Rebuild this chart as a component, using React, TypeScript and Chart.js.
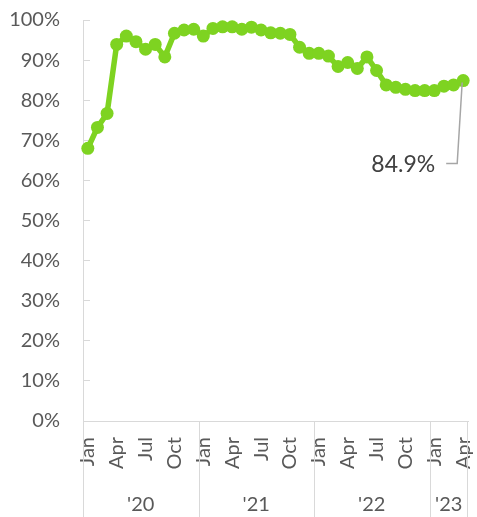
import React, { useEffect, useRef } from "react";
import { Chart, registerables } from "chart.js";

Chart.register(...registerables);

// ---- data ----
const MONTH_NAMES = ["Jan", "Feb", "Mar", "Apr", "May", "Jun", "Jul", "Aug", "Sep", "Oct", "Nov", "Dec"];
const YEAR_LABELS = ["'20", "'21", "'22", "'23"];
const MONTHS_PER_YEAR = [12, 12, 12, 4];
const TICK_MONTHS = ["Jan", "Apr", "Jul", "Oct"];
const VALUES = [
  68.0, 73.2, 76.7, 93.9, 96.0, 94.6, 92.7, 93.9, 90.8, 96.7, 97.5, 97.7,
  96.0, 97.9, 98.3, 98.3, 97.7, 98.2, 97.5, 96.8, 96.7, 96.4, 93.2, 91.7,
  91.7, 91.0, 88.4, 89.4, 87.9, 90.8, 87.4, 83.8, 83.2, 82.7, 82.4, 82.4,
  82.4, 83.5, 83.8, 84.9,
];
const Y_MIN = 0;
const Y_MAX = 100;
const Y_STEP = 10;

const CATEGORIES: string[] = [];
MONTHS_PER_YEAR.forEach((n) => {
  for (let i = 0; i < n; i++) CATEGORIES.push(MONTH_NAMES[i]);
});

const FONT = "Lato, 'Noto Sans', sans-serif";
const AXIS_COLOR = "#d9d9d9";
const TEXT_COLOR = "#595959";
const LINE_COLOR = "#7ED321";

const overlayPlugin = {
  id: "overlay",
  afterDatasetsDraw(chart: any) {
    const ctx = chart.ctx;
    const xs = chart.scales.x;
    const area = chart.chartArea;
    const bottom = chart.height;
    ctx.save();
    ctx.strokeStyle = AXIS_COLOR;
    ctx.lineWidth = 1;
    ctx.fillStyle = TEXT_COLOR;
    ctx.font = `20px ${FONT}`;
    ctx.textAlign = "center";
    ctx.textBaseline = "middle";
    let start = 0;
    MONTHS_PER_YEAR.forEach((n, yi) => {
      const end = start + n - 1;
      const left = start === 0 ? area.left : (xs.getPixelForValue(start - 1) + xs.getPixelForValue(start)) / 2;
      const right =
        end === CATEGORIES.length - 1 ? area.right : (xs.getPixelForValue(end) + xs.getPixelForValue(end + 1)) / 2;
      const lx = Math.round(left) + 0.5;
      ctx.beginPath();
      ctx.moveTo(lx, area.bottom);
      ctx.lineTo(lx, bottom);
      ctx.stroke();
      if (yi === MONTHS_PER_YEAR.length - 1) {
        const rx = Math.round(right) - 0.5;
        ctx.beginPath();
        ctx.moveTo(rx, area.bottom);
        ctx.lineTo(rx, bottom);
        ctx.stroke();
      }
      ctx.fillText(YEAR_LABELS[yi], (left + right) / 2, area.bottom + 84);
      start = end + 1;
    });

    const meta = chart.getDatasetMeta(0);
    const last = VALUES.length - 1;
    const pt = meta.data[last];
    ctx.strokeStyle = "#a6a6a6";
    ctx.lineWidth = 1.5;
    ctx.beginPath();
    ctx.moveTo(pt.x - 1, pt.y + 2);
    ctx.lineTo(pt.x - 6, pt.y + 83);
    ctx.lineTo(pt.x - 17, pt.y + 83);
    ctx.stroke();
    ctx.fillStyle = "#404040";
    ctx.font = `23px ${FONT}`;
    ctx.textAlign = "right";
    ctx.textBaseline = "middle";
    ctx.fillText(`${VALUES[last].toFixed(1)}%`, pt.x - 28, pt.y + 84);
    ctx.restore();
  },
};

export default function App() {
  const ref = useRef<HTMLCanvasElement | null>(null);
  useEffect(() => {
    document.body.style.margin = "0";
    const canvas = ref.current!;
    const chart = new Chart(canvas, {
      type: "line",
      data: {
        labels: CATEGORIES,
        datasets: [
          {
            data: VALUES,
            borderColor: LINE_COLOR,
            backgroundColor: LINE_COLOR,
            borderWidth: 5.5,
            pointRadius: 6.5,
            pointBorderWidth: 0,
            pointBackgroundColor: LINE_COLOR,
            tension: 0,
          },
        ],
      },
      options: {
        animation: false,
        responsive: false,
        devicePixelRatio: 1,
        layout: { padding: { left: 0, right: 9, top: 20, bottom: 0 } },
        plugins: { legend: { display: false }, tooltip: { enabled: false } },
        scales: {
          x: {
            type: "category",
            offset: true,
            afterFit: (s: any) => {
              s.height = 96;
              s.paddingLeft = 0;
              s.paddingRight = 0;
            },
            grid: { display: false, drawTicks: false },
            border: { display: true, color: AXIS_COLOR, width: 1 },
            ticks: {
              autoSkip: false,
              minRotation: 90,
              maxRotation: 90,
              padding: 16,
              color: TEXT_COLOR,
              font: { family: FONT, size: 20 },
              callback: function (this: any, value: any) {
                const l = this.getLabelForValue(value);
                return TICK_MONTHS.includes(l) ? l : "";
              },
            },
          },
          y: {
            min: Y_MIN,
            max: Y_MAX,
            afterFit: (s: any) => {
              s.width = 83;
              s.paddingTop = 0;
              s.paddingBottom = 0;
            },
            grid: { display: true, drawOnChartArea: false, drawTicks: true, tickLength: -7, color: AXIS_COLOR },
            border: { display: true, color: AXIS_COLOR, width: 1 },
            ticks: {
              stepSize: Y_STEP,
              padding: 30,
              color: TEXT_COLOR,
              font: { family: FONT, size: 20 },
              callback: (v: any) => `${v}%`,
            },
          },
        },
      },
      plugins: [overlayPlugin],
    });
    return () => chart.destroy();
  }, []);
  return (
    <div style={{ width: 477, height: 517 }}>
      <canvas ref={ref} width={477} height={517} style={{ display: "block" }} />
    </div>
  );
}
